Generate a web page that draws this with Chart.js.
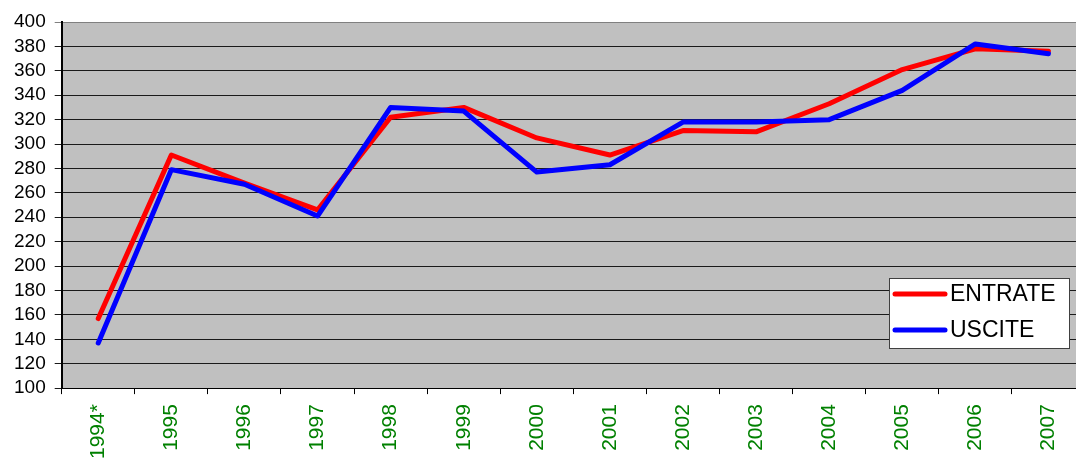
<!DOCTYPE html>
<html>
<head>
<meta charset="utf-8">
<script src="https://cdn.jsdelivr.net/npm/chart.js@4"></script>
<style>
html, body { margin:0; padding:0; overflow:hidden; background:#fff; width:1076px; height:461px; }
#wrap { width:1090px; height:461px; position:relative; }
</style>
</head>
<body>
<div id="wrap"><canvas id="c" width="1090" height="461"></canvas></div>
<script>
const categories = ['1994*','1995','1996','1997','1998','1999','2000','2001','2002','2003','2004','2005','2006','2007'];
const entrate = [157, 291, 268, 246, 322, 330, 305, 291, 311, 310, 333, 361, 378, 376];
const uscite  = [137, 279, 267, 241, 330, 327, 277, 283, 318, 318, 320, 344, 382, 374];
const seriesNames = ['ENTRATE', 'USCITE'];
const yMin = 100, yMax = 400, yStep = 20;

const FONT = "'Liberation Sans', Arial, sans-serif";

const bgPlugin = {
  id: 'plotBg',
  beforeDraw(chart) {
    const a = chart.chartArea, ctx = chart.ctx;
    ctx.save();
    ctx.fillStyle = '#C0C0C0';
    ctx.fillRect(a.left, a.top, a.right - a.left, a.bottom - a.top);
    ctx.restore();
  }
};

const legendPlugin = {
  id: 'boxLegend',
  afterDraw(chart) {
    const ctx = chart.ctx;
    const x0 = 889, y0 = 278, w = 180, h = 70;
    ctx.save();
    ctx.fillStyle = '#FFFFFF';
    ctx.fillRect(x0, y0, w, h);
    ctx.strokeStyle = '#404040';
    ctx.lineWidth = 1;
    ctx.strokeRect(x0 + 0.5, y0 + 0.5, w, h);
    chart.data.datasets.forEach((ds, i) => {
      const y = y0 + 16 + i * 36;
      ctx.strokeStyle = ds.borderColor;
      ctx.lineWidth = 5;
      ctx.lineCap = 'round';
      ctx.beginPath();
      ctx.moveTo(x0 + 6, y);
      ctx.lineTo(x0 + 56, y);
      ctx.stroke();
      ctx.fillStyle = '#000';
      ctx.font = '23px ' + FONT;
      ctx.textBaseline = 'middle';
      ctx.textAlign = 'left';
      ctx.fillText(ds.label, x0 + 61, y + 1);
    });
    ctx.restore();
  }
};

new Chart(document.getElementById('c'), {
  type: 'line',
  data: {
    labels: categories,
    datasets: [
      { label: seriesNames[0], data: entrate, borderColor: '#FF0000', backgroundColor: '#FF0000', borderWidth: 5, pointRadius: 0, tension: 0, borderCapStyle: 'round', borderJoinStyle: 'round', order: 2 },
      { label: seriesNames[1], data: uscite, borderColor: '#0000FF', backgroundColor: '#0000FF', borderWidth: 5, pointRadius: 0, tension: 0, borderCapStyle: 'round', borderJoinStyle: 'round', order: 1 }
    ]
  },
  options: {
    responsive: false,
    animation: false,
    layout: { padding: { top: 22, left: 5, right: 5, bottom: -8 } },
    plugins: { legend: { display: false }, tooltip: { enabled: false } },
    scales: {
      x: {
        type: 'category',
        offset: true,
        grid: { offset: true, drawOnChartArea: false, drawTicks: true, tickLength: 6, color: '#000', lineWidth: 1 },
        border: { display: true, color: '#000', width: 1 },
        ticks: { color: '#008000', font: { family: FONT, size: 21 }, minRotation: 90, maxRotation: 90, padding: 10, autoSkip: false }
      },
      y: {
        min: yMin, max: yMax,
        grid: { color: (c) => (c.tick && c.tick.value === yMax) ? '#808080' : '#1a1a1a', lineWidth: 1, drawTicks: true, tickLength: 7 },
        border: { display: true, color: '#000', width: 2 },
        ticks: { stepSize: yStep, autoSkip: false, color: '#000', font: { family: FONT, size: 19 }, padding: 9 }
      }
    }
  },
  plugins: [bgPlugin, legendPlugin]
});
</script>
</body>
</html>
